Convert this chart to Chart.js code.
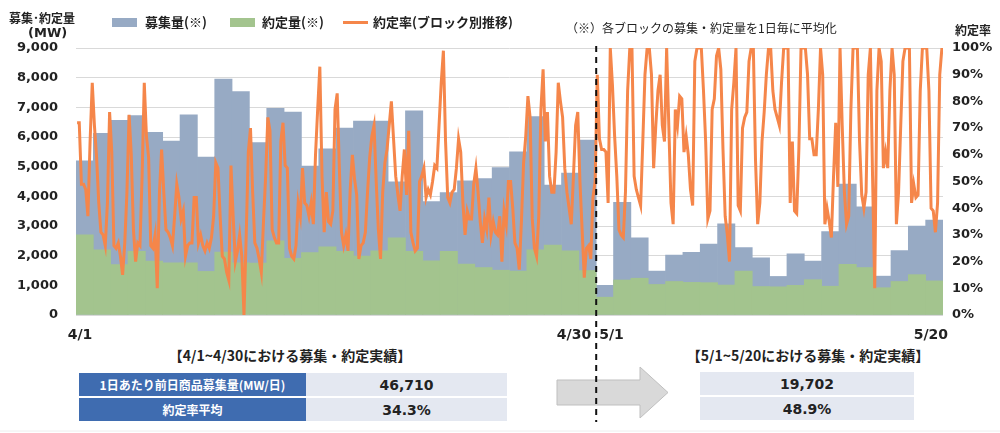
<!DOCTYPE html>
<html lang="ja">
<head>
<meta charset="utf-8">
<script src="https://cdn.jsdelivr.net/npm/chart.js@4.4.1/dist/chart.umd.min.js"></script>
<style>
  html,body{margin:0;padding:0;background:#fff;}
  body{width:1000px;height:433px;position:relative;overflow:hidden;
       font-family:"DejaVu Sans","Noto Sans CJK JP",sans-serif;color:#222;}
  #wrap{position:absolute;left:0;top:0;width:1000px;height:345px;}
  .abs{position:absolute;white-space:nowrap;}
  .jp{font-family:"Noto Sans CJK JP","DejaVu Sans",sans-serif;}
  .lg{font-weight:bold;font-size:13px;}
  .box{position:absolute;width:25px;height:9px;}
  .ttl{position:absolute;text-align:center;font-size:14px;font-weight:bold;white-space:nowrap;}
  table{position:absolute;border-collapse:separate;border-spacing:0 2px;}
  td{height:23px;padding:0;text-align:center;}
  td.h{background:#3f6cb0;color:#fff;font-weight:bold;font-size:12px;}
  td.v{background:#e4e8f1;color:#222;font-weight:bold;font-size:14px;font-family:"DejaVu Sans",sans-serif;}
</style>
</head>
<body>
<div id="wrap"><canvas id="c"></canvas></div>

<div class="abs jp" style="left:9px;top:9px;font-size:12px;font-weight:bold;">募集･約定量</div>
<div class="abs" style="left:28px;top:25px;font-size:13px;font-weight:bold;">(MW)</div>
<div class="abs jp" style="left:955px;top:21px;font-size:12px;font-weight:bold;">約定率</div>

<div class="box" style="left:112px;top:18px;background:#97aac4;"></div>
<div class="abs jp lg" style="left:145px;top:12px;">募集量(※)</div>
<div class="box" style="left:230px;top:18px;background:#a3c48e;"></div>
<div class="abs jp lg" style="left:262px;top:12px;">約定量(※)</div>
<div class="abs" style="left:343px;top:21px;width:25px;height:3px;background:#f5864a;"></div>
<div class="abs jp lg" style="left:373px;top:12px;">約定率(ブロック別推移)</div>
<div class="abs jp" style="left:566px;top:19px;font-size:12px;">（※）各ブロックの募集・約定量を1日毎に平均化</div>

<div class="ttl jp" style="left:90px;width:400px;top:345px;">【4/1~4/30における募集・約定実績】</div>
<div class="ttl jp" style="left:608px;width:400px;top:345px;">【5/1~5/20における募集・約定実績】</div>

<table class="jp" style="left:79px;top:371px;width:428px;">
  <tr><td class="h" style="width:227px;">1日あたり前日商品募集量(MW/日)</td><td class="v" id="a1"></td></tr>
  <tr><td class="h">約定率平均</td><td class="v" id="a2"></td></tr>
</table>
<table class="jp" style="left:700px;top:370px;width:214px;">
  <tr><td class="v" id="b1"></td></tr>
  <tr><td class="v" id="b2"></td></tr>
</table>

<svg class="abs" style="left:0;top:0;" width="1000" height="433">
  <polygon points="557,380 640,380 640,367 668,392.5 640,418 640,405 557,405" fill="#d9d9d9" stroke="#bfbfbf" stroke-width="1"/>
  <line id="dash" x1="596" y1="46" x2="596" y2="422" stroke="#111" stroke-width="2" stroke-dasharray="6,5"/>
  <line x1="0" y1="431" x2="1000" y2="431" stroke="#eeeeee" stroke-width="1"/>
</svg>

<script>
// ---- data ----
const days = [];
for (let d = 1; d <= 30; d++) days.push('4/' + d);
for (let d = 1; d <= 20; d++) days.push('5/' + d);

const recruitMW = [
  5200,6120,6560,6720,6160,5860,6750,5320,7950,7530,
  5810,6970,6840,5020,5600,6300,6540,6540,4490,6880,
  3820,4130,4520,4600,4970,5500,6690,4380,4780,5900,
  1000,3800,2600,1480,2020,2110,2390,3070,2270,1930,
  1300,2060,1820,2810,4410,3650,1310,2170,3000,3200
];
const agreedMW = [
  2700,2200,1700,2150,1820,1760,1760,1470,2120,1760,
  1750,2500,1910,2100,2300,2150,1990,2160,2600,2150,
  1830,2150,1720,1600,1510,1480,2200,2360,2160,1500,
  600,1180,1240,1030,1130,1100,1090,1010,1480,960,
  950,1000,1190,970,1710,1600,920,1130,1360,1150
];
// 約定率 (%), 8 blocks per day
const blockRate = [
  72,72,49,49,47,37,65,87,
  71,59,42,31,30,26,42,76,
  61,26,25,27,22,15,27,46,
  75,60,32,20,27,26,52,87,
  67,59,26,25,30,10,46,62,
  46,32,31,29,26,37,49,44,
  36,39,22,26,27,27,44,44,
  27,30,26,24,27,25,29,37,
  57,55,37,22,21,16,13,56,
  37,20,24,30,22,0,29,61,
  70,46,27,25,21,16,35,52,
  74,69,32,29,27,27,65,72,
  56,55,25,22,21,26,42,37,
  55,42,41,37,42,34,60,77,
  93,52,31,46,35,34,39,77,
  83,55,31,26,30,24,47,60,
  51,45,21,26,27,31,46,59,
  67,71,50,32,21,46,57,62,
  71,80,66,52,45,39,52,62,
  45,69,31,27,24,25,50,52,
  55,44,47,45,50,56,55,71,
  87,99,65,44,42,46,47,55,
  66,61,42,30,39,36,36,49,
  55,46,35,27,36,32,44,30,
  35,31,30,37,20,39,34,50,
  50,40,27,25,17,35,57,67,
  82,74,36,25,22,37,77,92,
  65,76,52,46,46,61,87,80,
  74,55,46,40,34,52,71,76,
  50,32,14,25,26,21,44,50,
  90,66,62,62,61,42,100,86,
  67,52,32,30,29,46,84,100,
  100,52,47,44,41,65,90,100,
  100,90,55,71,84,90,71,65,
  100,71,42,34,77,71,82,81,
  61,67,60,47,41,95,100,100,
  100,84,65,36,39,77,81,97,
  100,92,62,37,30,20,77,87,
  100,41,39,70,74,76,95,100,
  100,58,34,42,65,76,90,100,
  100,84,77,74,71,87,100,100,
  100,42,65,39,38,62,100,100,
  100,90,66,66,60,60,77,100,
  90,34,40,35,29,52,72,48,
  100,71,46,34,37,77,100,100,
  100,65,45,40,46,90,100,52,
  10,84,100,95,55,61,55,84,
  100,90,34,46,71,95,100,100,
  100,42,49,44,45,84,100,100,
  100,84,40,39,31,42,90,100
];
const BLOCKS = 8;
const leftTicks = [0,1000,2000,3000,4000,5000,6000,7000,8000,9000];
const xLabelDays = ['4/1','4/30','5/1','5/20'];
const summaryApr = ['46,710','34.3%'];
const summaryMay = ['19,702','48.9%'];

document.getElementById('a1').textContent = summaryApr[0];
document.getElementById('a2').textContent = summaryApr[1];
document.getElementById('b1').textContent = summaryMay[0];
document.getElementById('b2').textContent = summaryMay[1];

const ratePoints = blockRate.map((v, k) => ({ x: k + 0.5, y: v }));

const tickFont = { family: '"DejaVu Sans", sans-serif', size: 13, weight: 'bold' };

const xLabelPlugin = {
  id: 'xLabelPlugin',
  afterDraw(chart) {
    const xs = chart.scales.x;
    const ctx = chart.ctx;
    const w = xs.width / days.length;
    const y = chart.chartArea.bottom + 20;
    ctx.save();
    ctx.font = 'bold 14px "DejaVu Sans", sans-serif';
    ctx.fillStyle = '#222';
    ctx.textBaseline = 'middle';
    xLabelDays.forEach(lbl => {
      const i = days.indexOf(lbl);
      const c = xs.getPixelForValue(i);
      let x, align;
      if (i === 0) { x = c - w / 2 + 4; align = 'center'; }
      else if (i === days.length - 1) { x = c + w / 2 + 5; align = 'right'; }
      else if (days[i + 1] && days[i + 1].startsWith('5/') && lbl.startsWith('4/')) { x = c + w / 2 - 5; align = 'right'; }
      else { x = c - w / 2 + 3; align = 'left'; }
      ctx.textAlign = align;
      ctx.fillText(lbl, x, y);
    });
    ctx.restore();
    // position dashed divider at the April/May boundary
    const bi = days.indexOf('5/1');
    const bx = xs.getPixelForValue(bi) - w / 2;
    const dl = document.getElementById('dash');
    dl.setAttribute('x1', bx); dl.setAttribute('x2', bx);
  }
};

new Chart(document.getElementById('c'), {
  data: {
    labels: days,
    datasets: [
      {
        type: 'line', label: '約定率(ブロック別推移)', data: ratePoints,
        xAxisID: 'x2', yAxisID: 'y2', borderColor: '#f5864a', borderWidth: 3,
        pointRadius: 0, tension: 0, order: 0, fill: false
      },
      {
        type: 'bar', label: '約定量(※)', data: agreedMW, xAxisID: 'x', yAxisID: 'y',
        backgroundColor: '#a3c48e', barPercentage: 1, categoryPercentage: 1,
        grouped: false, order: 1
      },
      {
        type: 'bar', label: '募集量(※)', data: recruitMW, xAxisID: 'x', yAxisID: 'y',
        backgroundColor: '#97aac4', barPercentage: 1, categoryPercentage: 1,
        grouped: false, order: 2
      }
    ]
  },
  options: {
    responsive: true, maintainAspectRatio: false, animation: false,
    layout: { padding: { top: 48, left: 0, right: 0, bottom: 0 } },
    plugins: { legend: { display: false }, tooltip: { enabled: false } },
    scales: {
      x: {
        type: 'category', position: 'bottom',
        grid: { display: false, drawTicks: false },
        border: { display: false },
        ticks: { display: false },
        afterFit: s => { s.height = 30; }
      },
      x2: {
        type: 'linear', display: false, min: 0, max: days.length * BLOCKS
      },
      y: {
        position: 'left', min: 0, max: 9000,
        afterBuildTicks: s => { s.ticks = leftTicks.map(v => ({ value: v })); },
        grid: { color: '#d9d9d9', lineWidth: 1, drawTicks: false },
        border: { display: false },
        ticks: {
          font: tickFont, color: '#222', padding: 18,
          callback: v => v.toLocaleString('en-US')
        },
        afterFit: s => { s.width = 76; }
      },
      y2: {
        position: 'right', min: 0, max: 100,
        grid: { display: false, drawTicks: false },
        border: { display: false },
        ticks: { stepSize: 10, font: tickFont, color: '#222', padding: 9, callback: v => v + '%' },
        afterFit: s => { s.width = 57; }
      }
    }
  },
  plugins: [xLabelPlugin]
});
</script>
</body>
</html>
